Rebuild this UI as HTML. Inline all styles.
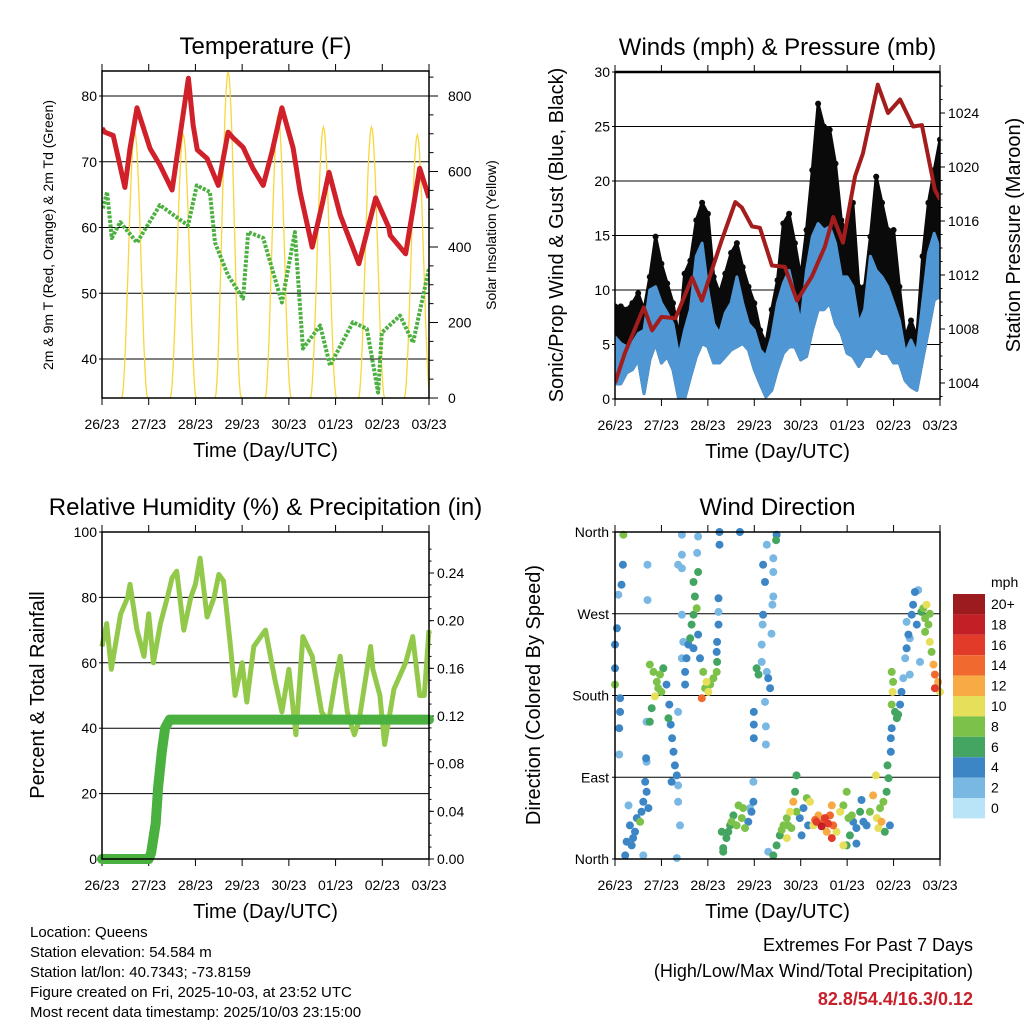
<!DOCTYPE html>
<html><head><meta charset="utf-8"><style>
body{margin:0;background:#fff}
svg{display:block;font-family:"Liberation Sans",sans-serif}
</style></head><body>
<svg id="svg" width="1024" height="1024" viewBox="0 0 1024 1024" xmlns="http://www.w3.org/2000/svg">
<rect width="1024" height="1024" fill="#fff"/>
<g id="g"></g>
<g font-size="15" fill="#000">
<text x="30" y="937">Location: Queens</text>
<text x="30" y="957">Station elevation: 54.584 m</text>
<text x="30" y="977">Station lat/lon: 40.7343; -73.8159</text>
<text x="30" y="997">Figure created on Fri, 2025-10-03, at 23:52 UTC</text>
<text x="30" y="1017">Most recent data timestamp: 2025/10/03 23:15:00</text>
</g>
<g text-anchor="end" font-size="18">
<text x="973" y="951">Extremes For Past 7 Days</text>
<text x="973" y="977">(High/Low/Max Wind/Total Precipitation)</text>
<text x="973" y="1005" fill="#c8202a" font-weight="bold">82.8/54.4/16.3/0.12</text>
</g>
</svg>
<script>
// ---------- DATA ----------
const dayLabels=["26/23","27/23","28/23","29/23","30/23","01/23","02/23","03/23"];
// Temperature (days since start, degF)
const tempT=[0,0.06,0.24,0.49,0.6,0.75,1.03,1.24,1.5,1.85,1.95,2.04,2.25,2.49,2.7,2.81,3.02,3.23,3.45,3.64,3.85,4.09,4.24,4.5,4.71,4.86,5.1,5.35,5.5,5.86,6.14,6.17,6.5,6.8,7.0];
const tempV=[75.1,74.5,74,66.1,72,78.2,72,69.5,65.7,82.7,75.6,71.8,70.5,66.4,74.5,73.6,72.2,69,66.4,71.5,78.2,72.1,65.4,57,63.4,68.4,61.9,57.3,54.5,64.5,60,58.8,56,69,64.5];
const dewT=[0.02,0.11,0.21,0.39,0.75,1.24,1.84,2.03,2.31,2.42,2.7,3.02,3.13,3.45,3.85,4.13,4.3,4.67,4.88,5.37,5.67,5.91,5.99,6.38,6.66,7.0];
const dewV=[62.9,65.4,58.4,60.8,57.7,63.4,60.3,66.4,65.4,57.7,52.7,49.2,59.3,58.4,48.6,59.3,41.6,45.1,39,45.6,44.6,34.9,44,46.6,42.5,53.8];
const solarPeakT=[0.7,1.74,2.7,3.77,4.74,5.77,6.75];
const solarPeakV=[705,697,863,750,718,718,697];
// Winds (mph), every 3 h
const windT=[0,0.125,0.25,0.375,0.5,0.625,0.75,0.875,1,1.125,1.25,1.375,1.5,1.625,1.75,1.875,2,2.125,2.25,2.375,2.5,2.625,2.75,2.875,3,3.125,3.25,3.375,3.5,3.625,3.75,3.875,4,4.125,4.25,4.375,4.5,4.625,4.75,4.875,5,5.125,5.25,5.375,5.5,5.625,5.75,5.875,6,6.125,6.25,6.375,6.5,6.625,6.75,6.875,7];
const gustHi=[8.5,8.5,8.2,8.8,9.7,8.2,11.2,14.9,12.4,10.6,8.8,5.7,11.5,12.7,16.4,18.0,17.0,11.2,9.7,11.5,13.4,14.3,12.1,10.3,8.8,6.3,5.1,8.2,10.9,16.1,17.0,14.3,11.2,15.5,21.0,27.1,25.0,24.7,21.6,16.4,14.9,18.0,10.3,10.3,14.9,20.4,18.0,15.5,15.5,10.3,5.7,7.2,5.7,13.1,18.0,21.0,23.8];
const blueHi=[5.7,5.1,4.8,5.1,6.0,6.3,10.0,10.3,8.8,7.9,6.9,3.9,6.3,8.2,13.1,14.3,10.0,6.9,6.0,7.9,8.8,11.2,8.8,6.9,6.3,4.5,3.9,5.7,8.8,10.6,11.8,9.4,6.9,11.8,14.9,16.1,15.5,15.8,14.3,11.2,11.2,10.3,6.9,8.2,13.1,11.8,11.2,10.3,8.8,7.2,4.2,5.4,4.2,8.8,13.4,15.2,13.7];
const blueLo=[1.4,1.4,2.4,2.7,3.6,0.5,3.6,5.1,3.3,3.9,2.7,0,0,2.0,3.9,5.1,4.8,3.3,3.3,3.9,4.5,4.8,5.1,4.5,2.7,1.4,0.2,0.8,2.7,4.2,4.8,4.8,3.6,3.9,6.3,8.2,8.2,8.8,6.9,6.0,4.2,3.9,3.0,3.9,3.9,4.8,4.2,4.2,3.3,3.3,1.7,1.1,0.8,3.6,6.3,9.1,9.4];
// Pressure (mb)
const presT=[0,0.21,0.62,0.8,1.0,1.3,1.66,1.87,2.3,2.59,2.73,2.95,3.12,3.38,3.66,3.92,4.24,4.52,4.7,4.91,5.17,5.34,5.66,5.88,6.14,6.42,6.61,6.89,7.0];
const presV=[1004,1006.2,1009.6,1007.9,1008.9,1008.8,1011.8,1010.1,1014.6,1017.4,1017,1015.6,1015.5,1012.7,1012.6,1010.1,1011.9,1014.1,1016.3,1014.4,1019.3,1021,1026.1,1024,1025,1023,1023.1,1018.3,1017.6];
// RH (%) & precipitation (in)
const rhT=[0,0.1,0.2,0.4,0.55,0.6,0.75,0.9,1.0,1.1,1.25,1.4,1.5,1.6,1.75,1.9,2.0,2.1,2.25,2.4,2.5,2.6,2.75,2.85,3.0,3.1,3.25,3.4,3.5,3.7,3.85,4.0,4.15,4.3,4.5,4.7,4.85,5.0,5.1,5.25,5.4,5.5,5.75,5.8,5.95,6.05,6.25,6.5,6.65,6.8,6.9,7.0];
const rhV=[65,72,58,75,80,84,70,62,75,60,72,80,86,88,70,80,84,92,74,80,87,85,65,50,60,48,65,68,70,55,45,58,38,68,62,45,42,55,62,45,38,42,65,58,50,35,52,60,68,50,50,70];
const rainT=[0,1.0,1.05,1.15,1.2,1.28,1.35,1.45,7];
const rainV=[0,0,0.005,0.03,0.06,0.09,0.11,0.117,0.117];
// Wind direction points: time (days), direction (deg), speed (mph)
const dirT=[0.18,0.17,0.14,0.07,0.04,0,0,0,0.11,0.11,0.09,0.09,0.22,0.25,0.32,0.39,0.47,0.29,0.54,0.61,0.65,0.68,0.68,0.72,0.61,0.67,0.36,0.43,0.57,
0.75,0.83,0.9,0.97,1.04,0.86,1.0,1.11,0.79,0.75,0.68,0.93,1.17,1.2,1.23,1.26,1.29,1.33,1.36,1.36,1.4,1.36,1.22,1.33,1.15,
1.44,1.44,1.36,1.44,1.44,1.47,1.44,0.7,0.7,1.79,1.69,1.72,1.69,1.65,1.62,1.69,1.54,1.51,1.51,1.79,1.83,1.77,1.79,1.76,1.58,1.9,1.97,2.01,2.12,2.19,1.87,1.94,2.05,
2.25,2.25,2.23,2.23,2.23,2.2,2.19,2.2,2.69,2.3,2.33,2.4,2.48,2.55,2.66,2.73,2.8,2.87,2.94,2.33,2.62,2.91,2.98,2.98,2.44,2.51,2.76,
3.05,3.09,3.16,3.27,3.34,3.3,3.23,2.99,2.99,2.99,3.25,3.25,3.19,3.23,3.27,3.41,3.41,3.41,3.39,3.19,3.18,3.16,3.37,3.48,3.47,
3.3,3.41,3.48,3.55,3.63,3.7,3.77,3.8,3.84,3.88,3.91,3.98,4.02,4.06,4.13,4.2,4.16,3.7,3.91,3.59,3.73,
4.27,4.34,4.45,4.52,4.59,4.63,4.7,4.67,4.77,4.56,4.67,4.38,4.85,4.49,4.31,
4.92,4.99,5.03,5.06,5.13,5.2,5.28,5.31,5.35,5.42,5.49,5.56,5.64,5.67,5.71,5.78,5.85,5.89,5.81,5.92,5.62,5.87,5.74,4.92,4.99,5.2,5.1,
5.94,5.94,5.96,5.96,5.98,5.99,6.03,6.07,6.1,6.14,6.17,6.21,6.25,6.28,6.32,6.28,6.35,6.39,6.42,6.46,6.53,5.96,6.57,6.5,6.35,
6.64,6.71,6.68,6.75,6.78,6.82,6.86,6.89,6.96,6.93,6.89,7.0,6.78,6.68,6.6];
const dirV=[357,324,302,291,254,236,210,192,177,162,144,115,4,19,37,23,45,59,41,63,85,107,74,56,4,111,15,30,52,
214,206,195,203,210,179,184,192,166,151,151,188,170,148,133,118,103,92,81,63,37,162,85,1,155,
357,335,324,320,269,239,221,324,285,316,305,289,269,258,243,232,221,206,192,247,221,337,355,276,236,206,195,184,199,206,177,188,192,
360,346,287,272,258,239,228,217,360,30,12,23,37,48,59,45,34,41,52,8,37,56,85,63,30,41,56,
210,203,217,206,188,199,173,162,148,133,146,126,324,305,346,331,316,289,280,269,258,236,248,357,351,
8,4,15,26,37,45,52,34,63,74,52,45,26,56,67,63,37,23,92,32,37,
37,41,36,45,39,48,37,59,30,30,23,48,52,41,43,
59,74,45,26,41,34,52,65,41,37,52,70,45,34,56,63,74,89,30,37,92,103,41,15,15,17,48,
118,133,144,170,184,195,162,155,159,170,184,199,221,232,247,261,243,269,280,294,296,206,217,258,203,
276,280,265,258,239,228,214,203,195,188,188,184,270,250,272];
const dirS=[7,4,4,2,4,4,4,7,4,4,4,2,4,4,4,4,4,2,7,4,4,2,4,4,2,4,4,4,4,
7,8.5,7,7,6,10,7,4,6,6,2,8.5,4,4,4,4,4,4,2,2,2,2,4,2,6,
2,2,1,2,2,2,2,2,2,6,6,6,6,6,6,4,4,4,4,4,4,2,2,7,4,8.5,10,10,7,7,14,8.5,7,
4,4,4,2,4,4,4,6,4,6,6,6,6,6,7,8.5,7,4,4,6,8.5,2,2,4,6,7,7,
6,6,2,2,4,4,2,4,4,4,1,1,4,4,1,2,2,1,1,4,2,2,2,4,6,
2,6,6,6,7,8.5,10,8.5,12,6,7,4,4,4,7,10,4,10,6,8.5,7,
10,15,17,15,15,13,13,12,10,12,15,12,10,14,13,
7,7,8.5,6,4,4,6,4,4,4,7,12,10,10,7,7,6,6,6,4,10,6,12,10,6,4,7,
4,4,4,7,9,7,6,6,6,4,4,2,2,4,4,2,2,4,4,4,1,7,2,4,2,
7,10,8.5,7,10,8.5,12,13,12,12,15,10,8.5,7,6];
const cbLabels=["20+","18","16","14","12","10","8","6","4","2","0"];
const cbColors=["#9b1b1e","#c21f26","#e23b2a","#f0692e","#f8ab44","#e6df5a","#7cc24a","#43a561","#3c86c6","#7ab8e4","#b9e3f7"];

// ---------- HELPERS ----------
const NS="http://www.w3.org/2000/svg";
const root=document.getElementById('g');
function el(tag,attrs,parent){const e=document.createElementNS(NS,tag);for(const k in attrs)e.setAttribute(k,attrs[k]);(parent||root).appendChild(e);return e;}
function txt(x,y,s,size,attrs,parent){const t=el('text',Object.assign({x:x,y:y,'font-size':size},attrs||{}),parent);t.textContent=s;return t;}
function lin(d0,d1,p0,p1){return v=>p0+(v-d0)/(d1-d0)*(p1-p0);}
function pathFrom(xs,ys,fx,fy){return xs.map((t,i)=>(i?'L':'M')+fx(t).toFixed(1)+' '+fy(ys[i]).toFixed(1)).join(' ');}

function frame(L,T,R,B,name,title,xTitle){
  const g=el('g',{});
  
  
  const tt=txt((L+R)/2,T-17,title,24,{'text-anchor':'middle'},g);
  
  
  const xt=txt((L+R)/2,B+59,xTitle,20,{'text-anchor':'middle'},g);
  
  
  const fx=lin(0,7,L,R);
  dayLabels.forEach((d,i)=>{
    const x=fx(i);
    const tl=txt(x,B+31,d,14,{'text-anchor':'middle'},g);
    
    
    el('line',{x1:x,y1:B,x2:x,y2:B+7,stroke:'#000','stroke-width':1},g);
    el('line',{x1:x,y1:T,x2:x,y2:T-7,stroke:'#000','stroke-width':1},g);
  });
  return {g,fx};
}
function border(L,T,R,B,g){el('rect',{x:L,y:T,width:R-L,height:B-T,fill:'none',stroke:'#000','stroke-width':1.5},g);}
function leftTicks(vals,fy,L,R,g,grid,fmt){
  vals.forEach(v=>{const y=fy(v);
    if(grid)el('line',{x1:L,y1:y,x2:R,y2:y,stroke:'#000','stroke-width':1},g);
    el('line',{x1:L,y1:y,x2:L-3,y2:y,stroke:'#000'},g);
    const t=txt(L-5,y+5,fmt?fmt(v):String(v),14,{'text-anchor':'end'},g);
    
    });
}
function rightTicks(vals,fy,R,g,fmt,minor,off,tl){
  if(minor)minor.forEach(v=>el('line',{x1:R,y1:fy(v),x2:R+tl/2,y2:fy(v),stroke:'#000'},g));
  vals.forEach(v=>{const y=fy(v);
    el('line',{x1:R,y1:y,x2:R+tl,y2:y,stroke:'#000'},g);
    const t=txt(R+off,y+5,fmt?fmt(v):String(v),14,{},g);
    
    });
}
function vtitle(x,y,s,size,g,name){const t=txt(0,0,s,size,{'text-anchor':'middle',transform:`translate(${x},${y}) rotate(-90)`},g);
  }

// ---------- PANEL 1: TEMPERATURE ----------
(function(){
  const L=102,T=71,R=429,B=398;
  const {g,fx}=frame(L,T,R,B,'temperature-panel','Temperature (F)','Time (Day/UTC)');
  const fy=lin(40,80,359,96), fs=lin(0,800,398,96);
  leftTicks([40,50,60,70,80],fy,L,R,g,true);
  const mn=[];for(let v=0;v<=850;v+=50)mn.push(v);
  rightTicks([0,200,400,600,800],fs,R,g,null,mn,19,9);
  const cp=el('clipPath',{id:'c1'},g);el('rect',{x:L,y:T,width:R-L,height:B-T},cp);
  const cg=el('g',{'clip-path':'url(#c1)'},g);
  solarPeakT.forEach((pt,i)=>{
    const xs=[],ys=[];
    for(let k=-14;k<=14;k++){const dt=k*0.02;xs.push(pt+dt);const c=Math.cos(dt/0.28*Math.PI/2);ys.push(solarPeakV[i]*c*c);}
    const p=el('path',{d:pathFrom(xs,ys,fx,fs),fill:'none',stroke:'#f7d73c','stroke-width':1.3},cg);
    
    
  });
  const gd=el('path',{d:pathFrom(dewT,dewV,fx,fy),fill:'none',stroke:'#4cb040','stroke-width':4,'stroke-dasharray':'3 1.5','stroke-linejoin':'round'},cg);
  
  
  const rt=el('path',{d:pathFrom(tempT,tempV,fx,fy),fill:'none',stroke:'#d0202a','stroke-width':5,'stroke-linejoin':'round'},cg);
  
  
  border(L,T,R,B,g);
  vtitle(53,235,'2m & 9m T (Red, Orange) & 2m Td (Green)',14,g,'temperature-y-axis-title');
  vtitle(496,235,'Solar Insolation (Yellow)',14,g,'solar-y-axis-title');
})();

// ---------- PANEL 2: WINDS ----------
(function(){
  const L=615,T=72,R=940,B=399;
  const {g,fx}=frame(L,T,R,B,'winds-panel','Winds (mph) & Pressure (mb)','Time (Day/UTC)');
  const fy=lin(0,30,399,72), fp=lin(1004,1024,383,113);
  leftTicks([0,5,10,15,20,25,30],fy,L,R,g,true);
  const mn=[];for(let v=1003;v<=1026;v++)mn.push(v);
  rightTicks([1004,1008,1012,1016,1020,1024],fp,R,g,null,mn,8,5);
  const cp=el('clipPath',{id:'c2'},g);el('rect',{x:L,y:T,width:R-L,height:B-T},cp);
  const cg=el('g',{'clip-path':'url(#c2)'},g);
  function band(lo,hi,color,name){
    let d=pathFrom(windT,hi,fx,fy);
    const rT=windT.slice().reverse(),rL=lo.slice().reverse();
    d+=' '+pathFrom(rT,rL,fx,fy).replace('M','L')+' Z';
    const p=el('path',{d:d,fill:color,stroke:color,'stroke-width':3,'stroke-linejoin':'round'},cg);
    
    
  }
  band(blueLo,gustHi,'#0a0a0a','gust-band');
  windT.forEach((t,i)=>{
    const c=el('circle',{cx:fx(t).toFixed(1),cy:fy(gustHi[i]).toFixed(1),r:3,fill:'#0a0a0a'},cg);
    
    
  });
  band(blueLo,blueHi,'#4f97d4','wind-speed-band');
  const pp=el('path',{d:pathFrom(presT,presV,fx,fp),fill:'none',stroke:'#a31d1d','stroke-width':4,'stroke-linejoin':'round'},cg);
  
  
  border(L,T,R,B,g);
  el('line',{x1:L,y1:T,x2:R,y2:T,stroke:'#000','stroke-width':2.5},g);
  vtitle(563,235,'Sonic/Prop Wind & Gust (Blue, Black)',20,g,'wind-y-axis-title');
  vtitle(1020,235,'Station Pressure (Maroon)',20,g,'pressure-y-axis-title');
})();

// ---------- PANEL 3: RH & PRECIP ----------
(function(){
  const L=102,T=532,R=429,B=859;
  const {g,fx}=frame(L,T,R,B,'humidity-panel','Relative Humidity (%) & Precipitation (in)','Time (Day/UTC)');
  const fy=lin(0,100,859,532), fr=lin(0,0.24,859,573);
  leftTicks([0,20,40,60,80,100],fy,L,R,g,true);
  const mn=[];for(let v=0;v<=0.27;v+=0.01)mn.push(v);
  rightTicks([0,0.04,0.08,0.12,0.16,0.2,0.24],fr,R,g,v=>v.toFixed(2),mn,8,5);
  const rh=el('path',{d:pathFrom(rhT,rhV,fx,fy),fill:'none',stroke:'#93c94b','stroke-width':5,'stroke-linejoin':'round'},g);
  
  
  const pr=el('path',{d:pathFrom(rainT,rainV,fx,fr),fill:'none',stroke:'#4ab040','stroke-width':10,'stroke-linecap':'round','stroke-linejoin':'round'},g);
  
  
  border(L,T,R,B,g);
  vtitle(44,695,'Percent & Total Rainfall',20,g,'humidity-y-axis-title');
})();

// ---------- PANEL 4: WIND DIRECTION ----------
(function(){
  const L=615,T=532,R=940,B=859;
  const {g,fx}=frame(L,T,R,B,'wind-direction-panel','Wind Direction','Time (Day/UTC)');
  const fy=lin(0,360,859,532);
  const names=['North','East','South','West','North'];
  [0,90,180,270,360].forEach((v,i)=>{const y=fy(v);
    if(i>0&&i<4)el('line',{x1:L,y1:y,x2:R,y2:y,stroke:'#000','stroke-width':1},g);
    el('line',{x1:L,y1:y,x2:L-3,y2:y,stroke:'#000'},g);
    const t=txt(L-6,y+5,names[i],14,{'text-anchor':'end'},g);
    
    });
  function col(s){const idx=Math.min(10,Math.max(0,Math.round(s/2)));return cbColors[10-idx];}
  const order=dirS.map((s,i)=>i).sort((a,b)=>dirS[a]-dirS[b]);
  order.forEach(i=>{
    const c=el('circle',{cx:fx(dirT[i]).toFixed(1),cy:fy(dirV[i]).toFixed(1),r:4,fill:col(dirS[i])},g);
    
    
  });
  border(L,T,R,B,g);
  vtitle(540,695,'Direction (Colored By Speed)',20,g,'direction-y-axis-title');
  const cb=el('g',{},g);
  
  
  txt(991,587,'mph',14,{},cb);
  cbLabels.forEach((lb,i)=>{
    const y=594+i*20.4;
    const r=el('rect',{x:953,y:y,width:32,height:20.4,fill:cbColors[i]},cb);
    
    
    txt(991,y+15,lb,14,{},cb);
  });
})();
</script>
</body></html>
